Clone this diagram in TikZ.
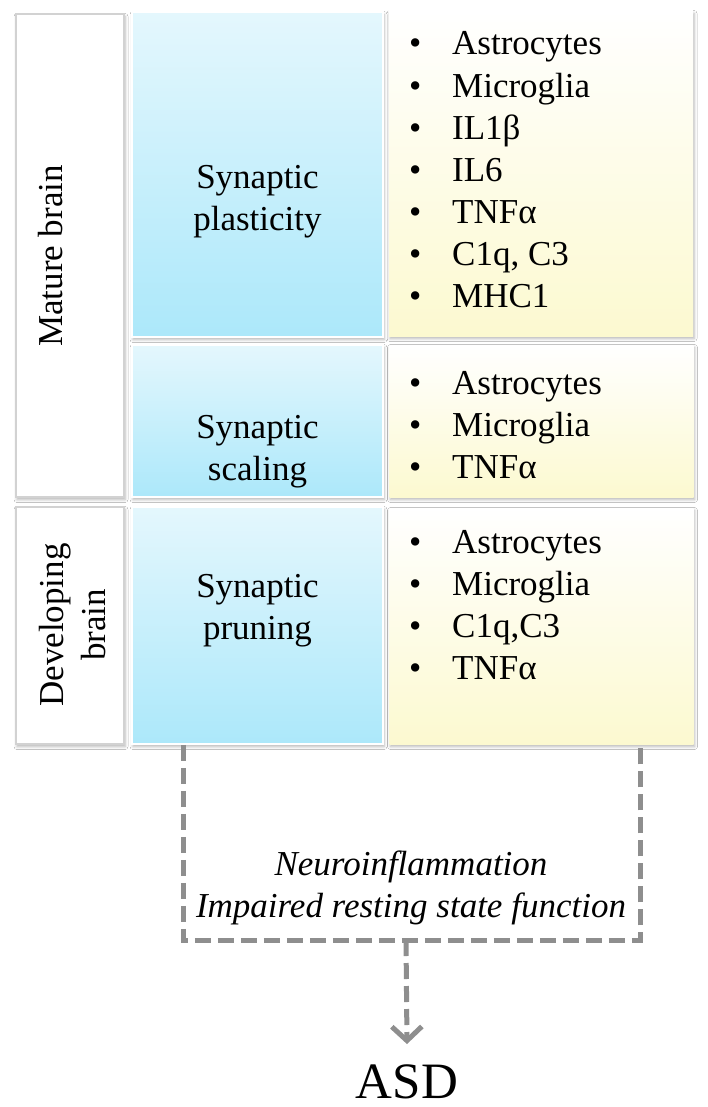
\documentclass[tikz,border=0pt]{standalone}
\usepackage{fontspec}
\setmainfont{Liberation Serif}
\usetikzlibrary{shadows.blur,arrows.meta}
\definecolor{bluetop}{HTML}{E4F7FD}
\definecolor{bluebot}{HTML}{ACE8FA}
\definecolor{yeltop}{HTML}{FFFFFF}
\definecolor{yelbot}{HTML}{FCF9D0}
\definecolor{dashgray}{HTML}{8E8E8E}
\newcommand{\bul}[1]{\makebox[43pt][l]{\textbullet}#1}
\begin{document}
\begin{tikzpicture}
[x=1pt, y=-1pt, font=\fontsize{35}{42}\selectfont,
 shad/.style={blur shadow={shadow xshift=1pt, shadow yshift=-2.5pt, shadow blur radius=3pt, shadow opacity=30}},
 agebox/.style={shad, draw=gray!35, line width=1.2pt, fill=white, minimum width=108pt, inner sep=0pt},
 procbox/.style={shad, draw=white, line width=1.5pt, top color=bluetop, bottom color=bluebot, minimum width=251pt, inner sep=0pt},
 listbox/.style={shad, top color=yeltop, bottom color=yelbot, minimum width=304pt, inner sep=0pt},
 txt/.style={inner sep=0pt, align=center, anchor=base},
 items/.style={inner sep=0pt, align=left, anchor=base west},
 dashline/.style={draw=dashgray, line width=5pt, dash pattern=on 16pt off 7pt}]
  \useasboundingbox (0,0) rectangle (708,1107);
  \fill[white] (0,0) rectangle (708,1107);
  % age column (base = last line)
  \node[agebox, minimum height=483pt] (matbox) at (70,255.5) {};
  \node[agebox, minimum height=237pt] (devbox) at (70,625.5) {};
  \node[txt, rotate=90] (mattxt) at (62,256) {Mature brain};
  \node[txt, rotate=90] (devtxt) at (105,625) {Developing\\brain};
  % processes
  \node[procbox, minimum height=325pt] (plastbox) at (257.5,174.5) {};
  \node[procbox, minimum height=152pt] (scalebox) at (257.5,421) {};
  \node[procbox, minimum height=237pt] (prunebox) at (257.5,625.5) {};
  \node[txt] (plasttxt) at (257.5,230) {Synaptic\\plasticity};
  \node[txt] (scaletxt) at (257.5,480) {Synaptic\\scaling};
  \node[txt] (prunetxt) at (257.5,639) {Synaptic\\pruning};
  % mediators
  \node[listbox, minimum height=325pt] (plastlist) at (541,173.5) {};
  \node[listbox, minimum height=152pt] (scalelist) at (541.5,421) {};
  \node[listbox, minimum height=236pt] (prunelist) at (541.5,626) {};
  \node[items] (plastitems) at (409,307)
    {\bul{Astrocytes}\\\bul{Microglia}\\\bul{IL1β}\\\bul{IL6}\\\bul{TNFα}\\\bul{C1q, C3}\\\bul{MHC1}};
  \node[items] (scaleitems) at (409,478) {\bul{Astrocytes}\\\bul{Microglia}\\\bul{TNFα}};
  \node[items] (pruneitems) at (409,679) {\bul{Astrocytes}\\\bul{Microglia}\\\bul{C1q,C3}\\\bul{TNFα}};
  % outcome
  \coordinate (join) at (406,940);
  \node[txt, font=\fontsize{35}{42}\selectfont\itshape] (effects) at (411,917)
    {Neuroinflammation\\Impaired resting state function};
  \node[txt, font=\fontsize{51}{60}\selectfont] (asd) at (407,1098) {ASD};
  \draw[dashline] (prunebox.south -| 183,0) |- (join) -| (prunelist.south -| 640,0);
  \draw[dashline, -{Straight Barb[length=14pt, width=30pt]}] (join) -- ([yshift=20pt]asd.north);
\end{tikzpicture}
\end{document}
